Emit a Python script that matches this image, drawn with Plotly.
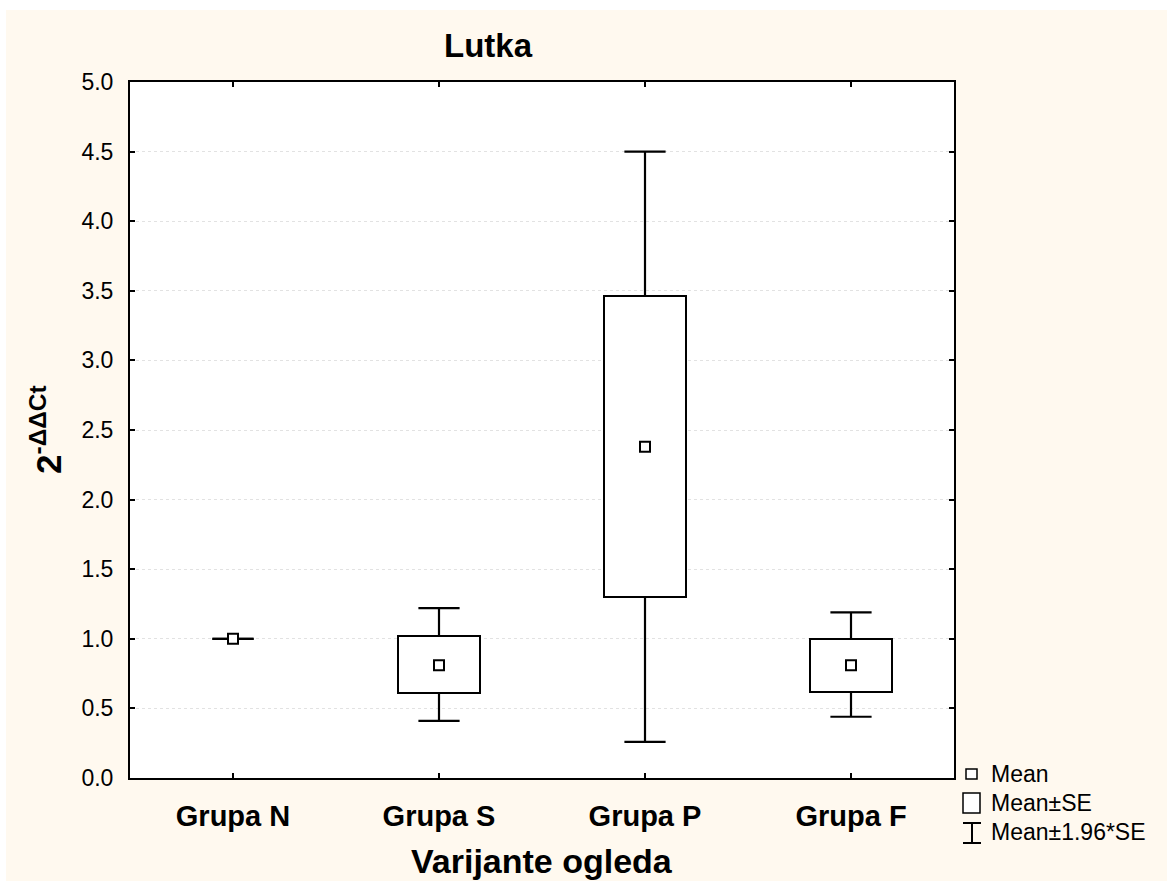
import plotly.graph_objects as go

# ---- data ----
groups = ["Grupa N", "Grupa S", "Grupa P", "Grupa F"]
mean_vals = [1.00, 0.81, 2.38, 0.81]
se_low = [1.00, 0.61, 1.30, 0.62]
se_high = [1.00, 1.02, 3.46, 1.00]
ci_low = [1.00, 0.41, 0.26, 0.44]
ci_high = [1.00, 1.22, 4.50, 1.19]
y_ticks = [0.0, 0.5, 1.0, 1.5, 2.0, 2.5, 3.0, 3.5, 4.0, 4.5, 5.0]
legend_labels = ["Mean", "Mean±SE", "Mean±1.96*SE"]

FONT = "Arial, Liberation Sans, sans-serif"
CREAM = "#FFF9EF"

# layout geometry (pixels)
W, H = 1167, 881
L, R, T, B = 130, 954, 82, 778
PW, PH = R - L, B - T


def px(x):
    return (x - L) / PW


def py(y):
    return (B - y) / PH


xs = list(range(len(groups)))
cap = 0.1

# whiskers + caps from the arrays
wx, wy = [], []
for i in xs:
    wx += [i, i, None, i - cap, i + cap, None]
    wy += [se_high[i], ci_high[i], None, ci_high[i], ci_high[i], None]
    wx += [i, i, None, i - cap, i + cap, None]
    wy += [se_low[i], ci_low[i], None, ci_low[i], ci_low[i], None]

box_h = [(h - l) if h > l else None for h, l in zip(se_high, se_low)]

fig = go.Figure()

fig.add_trace(go.Bar(
    x=xs,
    y=box_h,
    base=se_low,
    width=0.4,
    marker=dict(color="white", line=dict(color="black", width=2)),
    showlegend=False,
    hoverinfo="skip",
))

fig.add_trace(go.Scatter(
    x=wx, y=wy, mode="lines",
    line=dict(color="black", width=2.2),
    showlegend=False, hoverinfo="skip",
))

fig.add_trace(go.Scatter(
    x=xs, y=mean_vals, mode="markers",
    marker=dict(symbol="square", size=10, color="white",
                line=dict(color="black", width=2)),
    showlegend=False,
))

shapes = [
    # cream background with white border
    dict(type="rect", xref="paper", yref="paper", layer="below",
         x0=px(6), x1=px(1175), y0=py(890), y1=py(10),
         fillcolor=CREAM, line=dict(width=0)),
    # white plotting area
    dict(type="rect", xref="paper", yref="paper", layer="below",
         x0=0, x1=1, y0=0, y1=1, fillcolor="white", line=dict(width=0)),
    # legend glyphs
    dict(type="rect", xref="paper", yref="paper",
         x0=px(966), x1=px(977), y0=py(779), y1=py(769),
         fillcolor="white", line=dict(color="black", width=1.5)),
    dict(type="rect", xref="paper", yref="paper",
         x0=px(963), x1=px(980), y0=py(813), y1=py(793),
         fillcolor="white", line=dict(color="black", width=1.5)),
    dict(type="line", xref="paper", yref="paper",
         x0=px(972), x1=px(972), y0=py(823), y1=py(843),
         line=dict(color="black", width=2)),
    dict(type="line", xref="paper", yref="paper",
         x0=px(963), x1=px(981), y0=py(823), y1=py(823),
         line=dict(color="black", width=2)),
    dict(type="line", xref="paper", yref="paper",
         x0=px(963), x1=px(981), y0=py(843), y1=py(843),
         line=dict(color="black", width=2)),
]

annotations = [
    dict(text="Varijante ogleda", xref="paper", yref="paper",
         x=0.5, y=py(861), xanchor="center", yanchor="middle",
         showarrow=False,
         font=dict(family=FONT, size=34, color="black", weight="bold")),
    dict(text="2<sup>-ΔΔCt</sup>", xref="paper", yref="paper",
         x=px(46), y=0.5, xanchor="center", yanchor="middle",
         textangle=-90, showarrow=False,
         font=dict(family=FONT, size=35, color="black", weight="bold")),
]
for lbl, yy in zip(legend_labels, [774, 803, 832]):
    annotations.append(dict(
        text=lbl, xref="paper", yref="paper", x=px(989), y=py(yy),
        xanchor="left", yanchor="middle", showarrow=False,
        font=dict(family=FONT, size=23, color="black")))

fig.update_layout(
    width=W, height=H,
    margin=dict(l=L, r=W - R, t=T, b=H - B, pad=0),
    paper_bgcolor="white", plot_bgcolor="white",
    title=dict(text="Lutka", xref="container", yref="container",
               x=488 / W, y=1 - 45 / H, xanchor="center", yanchor="middle",
               font=dict(family=FONT, size=33, color="black", weight="bold")),
    xaxis=dict(range=[-0.5, 3.5], tickvals=xs, ticktext=groups,
               showgrid=False, zeroline=False,
               showline=True, linecolor="black", linewidth=2, mirror="ticks",
               ticks="inside", ticklen=5, tickwidth=1.5, tickcolor="black",
               ticklabelstandoff=11,
               tickfont=dict(family=FONT, size=29, color="black", weight="bold")),
    yaxis=dict(range=[0, 5], tickvals=y_ticks,
               ticktext=[f"{v:.1f}" for v in y_ticks],
               showgrid=True, gridcolor="#e2e2e2", griddash="dot", gridwidth=1,
               zeroline=False,
               showline=True, linecolor="black", linewidth=2, mirror="ticks",
               ticks="inside", ticklen=5, tickwidth=1.5, tickcolor="black",
               ticklabelstandoff=10,
               tickfont=dict(family=FONT, size=23, color="black")),
    shapes=shapes,
    annotations=annotations,
    showlegend=False,
    bargap=0,
)

fig.write_html("out.html",
               config={"displayModeBar": False},
               post_script="document.body.style.margin='0px';document.body.style.overflow='hidden';")
